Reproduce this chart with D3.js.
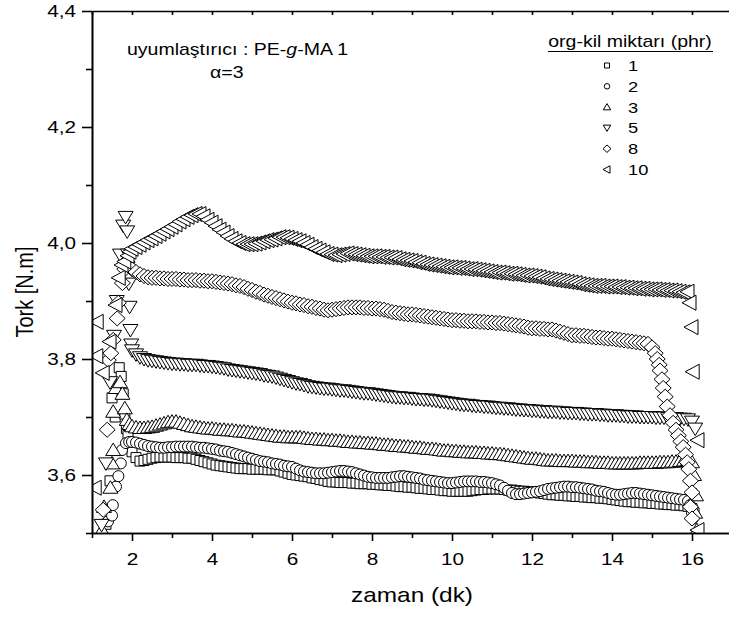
<!DOCTYPE html>
<html lang="tr">
<head>
<meta charset="UTF-8">
<title>Tork - zaman</title>
<script src="https://cdn.jsdelivr.net/npm/d3@7"></script>
<style>
    body { margin: 0; background: #fff; }
    svg { display: block; }
    text { font-family: "Liberation Sans", Arial, sans-serif; fill: #000; }
</style>
</head>
<body>
<div id="chart"></div>
<script>
// sampling times of the main part of each run (dk)
var times = [
    2.0,2.1,2.2,2.3,2.4,2.5,2.6,2.7,2.8,2.9,
    3.0,3.1,3.2,3.3,3.4,3.5,3.6,3.7,3.8,3.9,
    4.0,4.1,4.2,4.3,4.4,4.5,4.6,4.7,4.8,4.9,
    5.0,5.1,5.2,5.3,5.4,5.5,5.6,5.7,5.8,5.9,
    6.0,6.1,6.2,6.3,6.4,6.5,6.6,6.7,6.8,6.9,
    7.0,7.1,7.2,7.3,7.4,7.5,7.6,7.7,7.8,7.9,
    8.0,8.1,8.2,8.3,8.4,8.5,8.6,8.7,8.8,8.9,
    9.0,9.1,9.2,9.3,9.4,9.5,9.6,9.7,9.8,9.9,
    10.0,10.1,10.2,10.3,10.4,10.5,10.6,10.7,10.8,10.9,
    11.0,11.1,11.2,11.3,11.4,11.5,11.6,11.7,11.8,11.9,
    12.0,12.1,12.2,12.3,12.4,12.5,12.6,12.7,12.8,12.9,
    13.0,13.1,13.2,13.3,13.4,13.5,13.6,13.7,13.8,13.9,
    14.0,14.1,14.2,14.3,14.4,14.5,14.6,14.7,14.8,14.9,
    15.0,15.1,15.2,15.3,15.4,15.5,15.6,15.7,15.8
];

// tork (N.m), one array per org-kil amount (phr)
var tork1 = [
    3.640,3.630,3.624,3.625,3.627,3.629,3.630,3.631,3.631,3.631,
    3.631,3.630,3.630,3.630,3.629,3.629,3.627,3.625,3.623,3.621,
    3.619,3.617,3.616,3.615,3.614,3.613,3.612,3.611,3.611,3.611,
    3.610,3.610,3.610,3.610,3.609,3.609,3.609,3.607,3.605,3.603,
    3.601,3.600,3.599,3.598,3.597,3.595,3.594,3.592,3.591,3.589,
    3.588,3.588,3.587,3.587,3.587,3.586,3.586,3.585,3.585,3.585,
    3.584,3.584,3.583,3.583,3.582,3.582,3.581,3.580,3.580,3.579,
    3.579,3.578,3.577,3.577,3.576,3.575,3.575,3.574,3.573,3.573,
    3.572,3.572,3.572,3.572,3.572,3.573,3.574,3.575,3.575,3.576,
    3.576,3.576,3.576,3.575,3.574,3.574,3.573,3.572,3.572,3.571,
    3.571,3.570,3.569,3.568,3.567,3.566,3.566,3.565,3.565,3.564,
    3.564,3.563,3.563,3.562,3.562,3.561,3.561,3.560,3.560,3.559,
    3.558,3.557,3.556,3.555,3.554,3.554,3.553,3.553,3.552,3.552,
    3.551,3.551,3.550,3.550,3.549,3.549,3.548,3.548,3.547
];
var tork2 = [
    3.657,3.656,3.654,3.652,3.650,3.649,3.648,3.647,3.647,3.648,
    3.648,3.649,3.649,3.649,3.649,3.649,3.648,3.647,3.647,3.646,
    3.645,3.644,3.642,3.641,3.640,3.638,3.636,3.634,3.632,3.630,
    3.628,3.626,3.624,3.623,3.622,3.620,3.619,3.618,3.616,3.615,
    3.614,3.611,3.608,3.606,3.605,3.604,3.603,3.603,3.603,3.604,
    3.605,3.606,3.607,3.607,3.606,3.605,3.603,3.601,3.599,3.597,
    3.596,3.595,3.595,3.595,3.595,3.596,3.597,3.598,3.598,3.597,
    3.596,3.595,3.594,3.592,3.591,3.590,3.589,3.588,3.587,3.586,
    3.586,3.587,3.588,3.589,3.589,3.589,3.589,3.588,3.588,3.587,
    3.586,3.584,3.582,3.578,3.573,3.569,3.567,3.567,3.568,3.569,
    3.570,3.571,3.572,3.574,3.576,3.577,3.578,3.579,3.580,3.580,
    3.579,3.579,3.578,3.577,3.576,3.575,3.573,3.572,3.571,3.569,
    3.567,3.566,3.566,3.567,3.568,3.569,3.569,3.568,3.567,3.566,
    3.565,3.564,3.563,3.562,3.561,3.560,3.559,3.558,3.557
];
var tork3 = [
    3.684,3.682,3.681,3.681,3.682,3.683,3.685,3.687,3.689,3.691,
    3.692,3.692,3.690,3.688,3.686,3.684,3.683,3.682,3.681,3.680,
    3.680,3.679,3.678,3.678,3.677,3.677,3.676,3.675,3.675,3.674,
    3.673,3.672,3.671,3.670,3.669,3.668,3.667,3.666,3.666,3.665,
    3.665,3.665,3.665,3.664,3.663,3.662,3.662,3.661,3.661,3.660,
    3.660,3.659,3.659,3.658,3.657,3.657,3.656,3.656,3.655,3.655,
    3.654,3.654,3.653,3.652,3.652,3.651,3.650,3.650,3.649,3.649,
    3.648,3.647,3.647,3.646,3.645,3.645,3.644,3.643,3.642,3.642,
    3.641,3.641,3.640,3.640,3.639,3.639,3.639,3.638,3.638,3.637,
    3.637,3.636,3.636,3.635,3.634,3.633,3.632,3.631,3.630,3.629,
    3.628,3.628,3.627,3.626,3.625,3.625,3.625,3.624,3.624,3.624,
    3.624,3.623,3.623,3.623,3.622,3.622,3.622,3.621,3.621,3.621,
    3.620,3.620,3.620,3.620,3.620,3.620,3.620,3.621,3.621,3.621,
    3.621,3.621,3.622,3.622,3.622,3.623,3.623,3.624,3.625
];
var tork5 = [
    3.815,3.808,3.803,3.800,3.798,3.797,3.796,3.795,3.794,3.793,
    3.792,3.792,3.791,3.791,3.790,3.790,3.790,3.789,3.788,3.788,
    3.787,3.786,3.785,3.784,3.782,3.781,3.780,3.779,3.778,3.777,
    3.776,3.775,3.774,3.772,3.771,3.770,3.768,3.766,3.764,3.762,
    3.760,3.758,3.757,3.755,3.753,3.752,3.751,3.750,3.749,3.749,
    3.748,3.747,3.746,3.746,3.745,3.744,3.743,3.742,3.741,3.741,
    3.740,3.739,3.738,3.737,3.736,3.735,3.734,3.734,3.733,3.733,
    3.732,3.731,3.731,3.730,3.730,3.729,3.728,3.727,3.726,3.725,
    3.724,3.723,3.722,3.721,3.721,3.720,3.719,3.719,3.718,3.718,
    3.717,3.716,3.716,3.715,3.715,3.714,3.713,3.713,3.712,3.712,
    3.711,3.711,3.710,3.710,3.709,3.709,3.709,3.708,3.708,3.707,
    3.707,3.707,3.706,3.706,3.705,3.705,3.705,3.704,3.704,3.703,
    3.703,3.703,3.702,3.702,3.701,3.701,3.701,3.700,3.700,3.700,
    3.700,3.699,3.699,3.699,3.698,3.698,3.698,3.697,3.697
];
var tork8 = [
    3.955,3.950,3.946,3.943,3.941,3.940,3.940,3.939,3.939,3.938,
    3.938,3.938,3.937,3.937,3.936,3.936,3.936,3.935,3.935,3.934,
    3.934,3.933,3.932,3.931,3.930,3.929,3.927,3.926,3.924,3.921,
    3.919,3.916,3.914,3.911,3.909,3.907,3.905,3.903,3.901,3.899,
    3.897,3.896,3.894,3.893,3.891,3.890,3.888,3.887,3.885,3.884,
    3.885,3.886,3.887,3.888,3.889,3.889,3.889,3.889,3.888,3.888,
    3.887,3.887,3.886,3.885,3.883,3.881,3.880,3.879,3.878,3.877,
    3.877,3.876,3.875,3.874,3.873,3.872,3.871,3.870,3.869,3.868,
    3.867,3.867,3.866,3.866,3.865,3.865,3.865,3.864,3.864,3.863,
    3.863,3.862,3.862,3.861,3.860,3.859,3.858,3.857,3.856,3.854,
    3.853,3.853,3.852,3.852,3.851,3.851,3.849,3.847,3.845,3.843,
    3.841,3.841,3.840,3.840,3.839,3.838,3.837,3.837,3.836,3.835,
    3.835,3.834,3.833,3.832,3.831,3.830,3.829,3.828,3.827,3.826
];
var tork10 = [
    3.990,3.993,3.997,4.001,4.005,4.008,4.012,4.016,4.020,4.024,
    4.028,4.032,4.037,4.041,4.045,4.048,4.050,4.050,4.046,4.040,
    4.035,4.029,4.023,4.018,4.012,4.007,4.003,4.000,3.998,3.998,
    3.998,3.999,4.001,4.003,4.005,4.006,4.008,4.010,4.010,4.009,
    4.007,4.005,4.003,4.000,3.997,3.993,3.990,3.987,3.984,3.981,
    3.980,3.979,3.980,3.981,3.982,3.981,3.980,3.979,3.978,3.977,
    3.977,3.977,3.976,3.976,3.975,3.975,3.974,3.972,3.971,3.970,
    3.969,3.967,3.966,3.964,3.963,3.962,3.961,3.960,3.959,3.958,
    3.958,3.957,3.957,3.956,3.955,3.955,3.954,3.953,3.952,3.951,
    3.950,3.949,3.949,3.948,3.947,3.947,3.946,3.945,3.944,3.944,
    3.943,3.942,3.941,3.939,3.938,3.937,3.936,3.935,3.934,3.933,
    3.932,3.931,3.929,3.928,3.927,3.926,3.926,3.926,3.925,3.925,
    3.925,3.924,3.924,3.923,3.923,3.922,3.922,3.921,3.921,3.920,
    3.920,3.920,3.919,3.919,3.918,3.918,3.917,3.916,3.915
];

// scattered points while loading (start) and discharging (end): [zaman, tork]
var start1 = [[1.35,3.515],[1.45,3.59],[1.5,3.733],[1.58,3.70],[1.68,3.785],[1.73,3.77],[1.78,3.74],[1.82,3.705],[1.86,3.68],[1.9,3.668],[1.95,3.655]];
var start2 = [[1.4,3.52],[1.5,3.53],[1.52,3.548],[1.6,3.58],[1.66,3.598],[1.72,3.62],[1.75,3.643],[1.85,3.655],[1.93,3.657]];
var start3 = [[1.25,3.505],[1.3,3.545],[1.46,3.578],[1.5,3.62],[1.53,3.643],[1.53,3.709],[1.6,3.75],[1.7,3.76],[1.76,3.74],[1.82,3.715],[1.87,3.695],[1.94,3.688]];
var start5 = [[1.24,3.514],[1.35,3.62],[1.45,3.76],[1.55,3.84],[1.62,3.90],[1.7,3.98],[1.78,4.03],[1.84,4.045],[1.88,4.02],[1.9,3.98],[1.92,3.93],[1.94,3.89],[1.96,3.85],[1.98,3.825]];
var start8 = [[1.28,3.54],[1.38,3.678],[1.41,3.798],[1.47,3.81],[1.53,3.833],[1.63,3.87],[1.66,3.897],[1.76,3.931],[1.82,3.955],[1.88,3.967]];
var start10 = [[1.08,3.578],[1.12,3.805],[1.13,3.864],[1.28,3.776],[1.45,3.83],[1.6,3.893],[1.68,3.94],[1.75,3.962],[1.82,3.968],[1.9,3.978],[1.95,3.985]];

var end1 = [[15.9,3.546],[16.0,3.542],[16.05,3.535]];
var end2 = [[15.9,3.555],[15.95,3.548],[16.0,3.535],[16.02,3.525]];
var end3 = [[15.9,3.626],[16.0,3.622],[16.05,3.60],[16.1,3.565],[16.08,3.535],[16.12,3.505]];
var end5 = [[15.9,3.696],[16.0,3.692],[16.08,3.68]];
var end8 = [[15.0,3.82],[15.08,3.81],[15.13,3.80],[15.18,3.79],[15.2,3.78],[15.25,3.765],[15.28,3.75],[15.33,3.735],[15.38,3.718],
            [15.45,3.703],[15.53,3.69],[15.6,3.678],[15.66,3.668],[15.72,3.658],[15.78,3.648],[15.84,3.635],[15.88,3.622],
            [15.92,3.61],[15.96,3.59],[16.0,3.57],[15.96,3.545],[16.0,3.525]];
var end10 = [[15.9,3.916],[15.95,3.897],[16.0,3.855],[16.03,3.778],[16.15,3.66],[16.15,3.505]];

var seriesNames = ["1", "2", "3", "5", "8", "10"];
var seriesShapes = ["square", "circle", "triUp", "triDown", "diamond", "triLeft"];

var xMajorTicks = [2, 4, 6, 8, 10, 12, 14, 16];
var xMinorTicks = [1, 3, 5, 7, 9, 11, 13, 15, 17];
var yMajorTicks = [3.6, 3.8, 4.0, 4.2, 4.4];
var yMinorTicks = [3.5, 3.7, 3.9, 4.1, 4.3];

// the original figure is stretched sideways, so text is too
var stretch = "scale(1.22,1)";

var width = 729, height = 617;
var plot = {left: 92, top: 11, bottom: 533};

var x = d3.scaleLinear().domain([1, 17.6]).range([plot.left, plot.left + 16.6 * 40]);
var y = d3.scaleLinear().domain([3.5, 4.4]).range([plot.bottom, plot.top]);

function poly(pts, k) {
    return "M" + pts.map(function(p) { return (p[0] * k) + "," + (p[1] * k); }).join("L") + "Z";
}

function shapePath(name, k) {
    if (name == "square") return poly([[-5, -5], [5, -5], [5, 5], [-5, 5]], k);
    if (name == "circle") {
        var r = 5.5 * k;
        return "M" + (-r) + ",0A" + r + "," + r + " 0 1,0 " + r + ",0A" + r + "," + r + " 0 1,0 " + (-r) + ",0Z";
    }
    if (name == "triUp") return poly([[0, -7], [7.5, 5.5], [-7.5, 5.5]], k);
    if (name == "triDown") return poly([[0, 7], [7.5, -5.5], [-7.5, -5.5]], k);
    if (name == "diamond") return poly([[0, -7.5], [8, 0], [0, 7.5], [-8, 0]], k);
    return poly([[-8, 0], [6, -7.5], [6, 7.5]], k);
}

function buildSeries(start, main, end) {
    var pts = start.slice();
    main.forEach(function(v, i) { pts.push([times[i], v]); });
    return pts.concat(end);
}

var allSeries = [
    buildSeries(start1, tork1, end1),
    buildSeries(start2, tork2, end2),
    buildSeries(start3, tork3, end3),
    buildSeries(start5, tork5, end5),
    buildSeries(start8, tork8, end8),
    buildSeries(start10, tork10, end10)
];

var svg = d3.select("#chart").append("svg")
    .attr("width", width)
    .attr("height", height);

svg.append("clipPath").attr("id", "plot-clip")
    .append("rect")
    .attr("x", plot.left).attr("y", plot.top)
    .attr("width", x.range()[1] - plot.left)
    .attr("height", plot.bottom - plot.top);

// markers
var marks = svg.append("g").attr("clip-path", "url(#plot-clip)");
allSeries.forEach(function(pts, s) {
    marks.append("g")
        .selectAll("path")
        .data(pts)
        .join("path")
        .attr("transform", function(d) { return "translate(" + x(d[0]) + "," + y(d[1]) + ")"; })
        .attr("d", shapePath(seriesShapes[s], 1))
        .attr("fill", "#fff")
        .attr("stroke", "#000")
        .attr("stroke-width", 1);
});

// axes
function comma(v) { return d3.format(".1f")(v).replace(".", ","); }

function styleAxis(g) {
    g.selectAll("path, line").attr("stroke", "#000").attr("stroke-width", 1.6);
    g.selectAll("text").attr("fill", "#000").style("font-size", "17px")
        .style("font-family", "'Liberation Sans', Arial, sans-serif");
}

var xAxis = svg.append("g")
    .attr("transform", "translate(0," + plot.bottom + ")")
    .call(d3.axisBottom(x).tickValues(xMajorTicks).tickSize(8).tickSizeOuter(0).tickPadding(12))
    .call(styleAxis);
xAxis.selectAll("text").attr("transform", stretch);

svg.append("g")
    .attr("transform", "translate(0," + plot.bottom + ")")
    .call(d3.axisBottom(x).tickValues(xMinorTicks).tickSize(5).tickSizeOuter(0).tickFormat(""))
    .call(styleAxis);

svg.append("g")
    .attr("transform", "translate(0," + plot.top + ")")
    .call(d3.axisBottom(x).tickValues(xMajorTicks.concat(xMinorTicks)).tickSize(4).tickSizeOuter(0).tickFormat(""))
    .call(styleAxis);

var yAxis = svg.append("g")
    .attr("transform", "translate(" + plot.left + ",0)")
    .call(d3.axisLeft(y).tickValues(yMajorTicks).tickSize(10).tickSizeOuter(0).tickPadding(3).tickFormat(comma))
    .call(styleAxis);
yAxis.selectAll("text").attr("transform", stretch);

svg.append("g")
    .attr("transform", "translate(" + plot.left + ",0)")
    .call(d3.axisLeft(y).tickValues(yMinorTicks).tickSize(6).tickSizeOuter(0).tickFormat(""))
    .call(styleAxis);

// axis titles
svg.append("text")
    .attr("transform", "translate(412,602) " + stretch)
    .attr("text-anchor", "middle")
    .style("font-size", "20px")
    .text("zaman (dk)");

svg.append("text")
    .attr("transform", "translate(33,292) " + stretch + " rotate(-90)")
    .attr("text-anchor", "middle")
    .style("font-size", "20px")
    .text("Tork [N.m]");

// annotation
var note = svg.append("text")
    .attr("transform", "translate(127,55) " + stretch)
    .style("font-size", "16px");
note.append("tspan").text("uyumlaştırıcı : PE-");
note.append("tspan").style("font-style", "italic").text("g");
note.append("tspan").text("-MA 1");

svg.append("text")
    .attr("transform", "translate(210,78) " + stretch)
    .style("font-size", "16px")
    .text("α=3");

// legend
var legTitle = svg.append("text")
    .attr("transform", "translate(630,47) " + stretch)
    .attr("text-anchor", "middle")
    .style("font-size", "16px")
    .text("org-kil miktarı (phr)");
svg.append("line")
    .attr("x1", 548).attr("x2", 713)
    .attr("y1", 51.5).attr("y2", 51.5)
    .attr("stroke", "#000").attr("stroke-width", 1.2);

var legendY = d3.scalePoint().domain(seriesNames).range([65.5, 169.5]);
var legend = svg.append("g");
seriesNames.forEach(function(name, s) {
    legend.append("path")
        .attr("transform", "translate(607," + legendY(name) + ")")
        .attr("d", shapePath(seriesShapes[s], 0.5))
        .attr("fill", "#fff")
        .attr("stroke", "#000")
        .attr("stroke-width", 1);
    legend.append("text")
        .attr("transform", "translate(628," + (legendY(name) + 5.5) + ") " + stretch)
        .style("font-size", "15px")
        .text(name);
});
</script>
</body>
</html>
